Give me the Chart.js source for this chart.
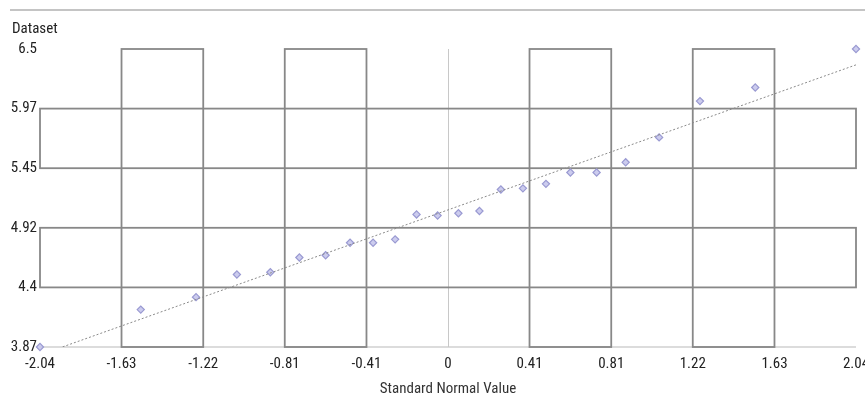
<!DOCTYPE html>
<html>
<head>
<meta charset="utf-8">
<script src="https://cdn.jsdelivr.net/npm/chart.js@4/dist/chart.umd.min.js"></script>
<style>
html,body{margin:0;padding:0;background:#fff;}
#wrap{width:865px;height:410px;position:relative;}
</style>
</head>
<body>
<div id="wrap"><canvas id="c" width="865" height="410"></canvas></div>
<script>
// Normal scores (x) and sorted dataset values (y)
const normalScores = [-2.037, -1.534, -1.258, -1.054, -0.887, -0.742, -0.611, -0.489, -0.374, -0.264, -0.157, -0.052,
                       0.052, 0.157, 0.264, 0.374, 0.489, 0.611, 0.742, 0.887, 1.054, 1.258, 1.534, 2.037];
const datasetValues = [3.87, 4.20, 4.31, 4.51, 4.53, 4.66, 4.68, 4.79, 4.79, 4.82, 5.04, 5.03,
                       5.05, 5.07, 5.26, 5.27, 5.31, 5.41, 5.41, 5.50, 5.72, 6.04, 6.16, 6.50];
// Reference (fitted) line end points
const fitX = [-2.037, 2.037];
const fitY = [3.80, 6.36];
// Axis ticks
const xTickValues = [-2.037, -1.63, -1.222, -0.815, -0.407, 0, 0.407, 0.815, 1.222, 1.63, 2.037];
const xTickLabels = ['-2.04', '-1.63', '-1.22', '-0.81', '-0.41', '0', '0.41', '0.81', '1.22', '1.63', '2.04'];
const yTickValues = [3.87, 4.396, 4.922, 5.448, 5.974, 6.5];
const yTickLabels = ['3.87', '4.4', '4.92', '5.45', '5.97', '6.5'];
// Band pairs (tick index ranges) outlined as boxes
const xBands = [[1, 2], [3, 4], [6, 7], [8, 9]];
const yBands = [[1, 2], [3, 4]];

const FONT = "'Roboto Condensed', 'Liberation Sans Narrow', sans-serif";
const FSIZE = 15;

const decor = {
  id: 'decor',
  beforeDatasetsDraw(chart) {
    const {ctx, chartArea: a, scales: {x, y}} = chart;
    ctx.save();
    // top separator line
    ctx.strokeStyle = '#c4c4c4';
    ctx.lineWidth = 2;
    ctx.beginPath(); ctx.moveTo(10, 10); ctx.lineTo(865, 10); ctx.stroke();
    // "Dataset" label
    ctx.fillStyle = '#222';
    ctx.font = FSIZE + 'px ' + FONT;
    ctx.textAlign = 'left';
    ctx.textBaseline = 'middle';
    ctx.fillText('Dataset', 12, 29);
    // bottom axis line
    ctx.strokeStyle = '#d0d0d0';
    ctx.lineWidth = 1.5;
    ctx.beginPath(); ctx.moveTo(a.left, a.bottom); ctx.lineTo(a.right, a.bottom); ctx.stroke();
    // zero line
    ctx.strokeStyle = '#c8c8c8';
    ctx.lineWidth = 1;
    const x0 = Math.round(x.getPixelForValue(0)) + 0.5;
    ctx.beginPath(); ctx.moveTo(x0, a.top); ctx.lineTo(x0, a.bottom); ctx.stroke();
    // band boxes
    ctx.strokeStyle = '#888888';
    ctx.lineWidth = 1.8;
    const yTop = y.getPixelForValue(yTickValues[yTickValues.length - 1]);
    const yBot = y.getPixelForValue(yTickValues[0]);
    xBands.forEach(([i, j]) => {
      const l = x.getPixelForValue(xTickValues[i]);
      const r = x.getPixelForValue(xTickValues[j]);
      ctx.strokeRect(l, yTop, r - l, yBot - yTop);
    });
    const xL = x.getPixelForValue(xTickValues[0]);
    const xR = x.getPixelForValue(xTickValues[xTickValues.length - 1]);
    yBands.forEach(([i, j]) => {
      const b = y.getPixelForValue(yTickValues[i]);
      const t = y.getPixelForValue(yTickValues[j]);
      ctx.strokeRect(xL, t, xR - xL, b - t);
    });
    ctx.restore();
  }
};

new Chart(document.getElementById('c'), {
  type: 'scatter',
  data: {
    datasets: [
      {
        label: 'Fit',
        type: 'line',
        data: fitX.map((v, i) => ({x: v, y: fitY[i]})),
        borderColor: '#8a8a8a',
        borderWidth: 1,
        borderDash: [2, 2],
        pointRadius: 0,
        fill: false
      },
      {
        label: 'Dataset',
        data: normalScores.map((v, i) => ({x: v, y: datasetValues[i]})),
        pointStyle: 'rectRot',
        pointRadius: 3.6,
        backgroundColor: 'rgba(198,198,236,0.9)',
        borderColor: '#9a9ad2',
        borderWidth: 1.2,
        clip: false
      }
    ]
  },
  options: {
    responsive: false,
    animation: false,
    layout: {padding: {top: 49, left: 0, right: 9, bottom: 0}},
    plugins: {legend: {display: false}, tooltip: {enabled: false}},
    scales: {
      x: {
        type: 'linear',
        min: -2.037, max: 2.037,
        afterBuildTicks: s => { s.ticks = xTickValues.map(v => ({value: v})); },
        afterFit: s => { s.height = 63; s.paddingLeft = 0; s.paddingRight = 0; },
        grid: {display: false, drawTicks: false},
        border: {display: false},
        ticks: {
          autoSkip: false, maxRotation: 0, padding: 8,
          color: '#222', font: {family: FONT, size: FSIZE},
          callback: (v, i) => xTickLabels[i]
        },
        title: {
          display: true, text: 'Standard Normal Value',
          color: '#333', font: {family: FONT, size: FSIZE},
          padding: {top: 0, bottom: 12}
        }
      },
      y: {
        type: 'linear',
        min: 3.87, max: 6.5,
        afterBuildTicks: s => { s.ticks = yTickValues.map(v => ({value: v})); },
        afterFit: s => { s.width = 40; s.paddingTop = 0; s.paddingBottom = 0; },
        grid: {display: false, drawTicks: false},
        border: {display: false},
        ticks: {
          autoSkip: false, padding: 3,
          color: '#222', font: {family: FONT, size: FSIZE},
          callback: (v, i) => yTickLabels[i]
        }
      }
    }
  },
  plugins: [decor]
});
</script>
</body>
</html>
